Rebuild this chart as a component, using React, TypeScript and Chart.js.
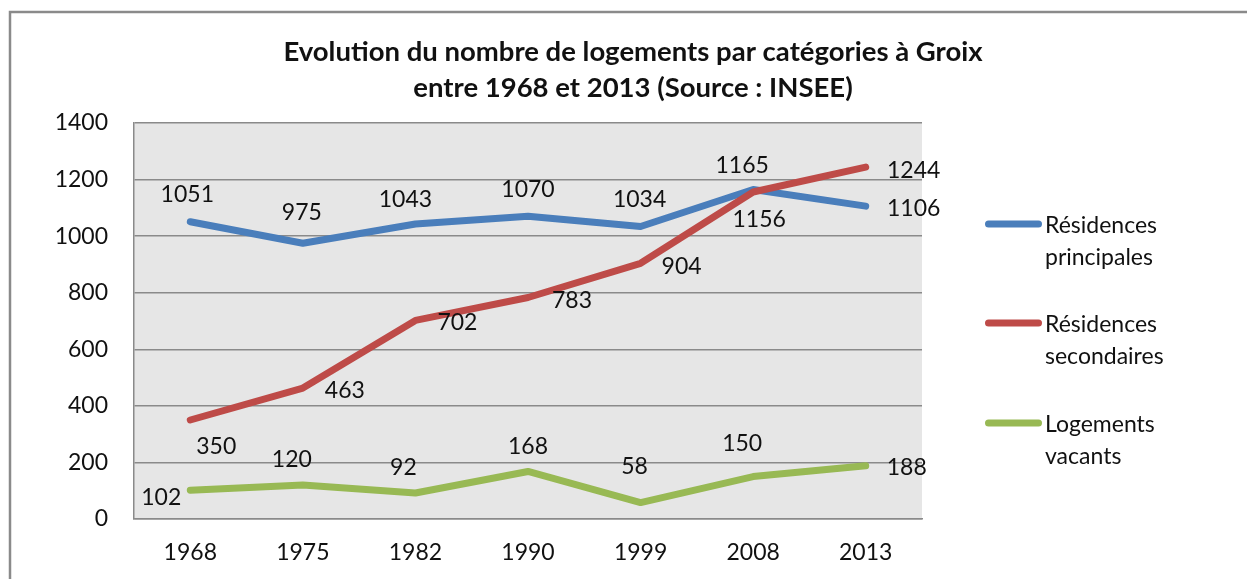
import React, { useEffect, useRef } from "react";
import { Chart, registerables } from "chart.js";

Chart.register(...registerables);

const years = ["1968", "1975", "1982", "1990", "1999", "2008", "2013"];
const principales = [1051, 975, 1043, 1070, 1034, 1165, 1106];
const secondaires = [350, 463, 702, 783, 904, 1156, 1244];
const vacants = [102, 120, 92, 168, 58, 150, 188];
const seriesNames = [
  ["Résidences", "principales"],
  ["Résidences", "secondaires"],
  ["Logements", "vacants"],
];
const titleLines = [
  "Evolution du nombre de logements par catégories à Groix",
  "entre 1968 et 2013 (Source : INSEE)",
];
const yTicks = { min: 0, max: 1400, step: 200 };

const colors = ["#4a7ebb", "#be4b48", "#98b954"];

// label offsets relative to each point (dx, dy of label centre)
const labelOffsets = [
  [[-3, -27], [-1, -31], [-10, -24], [0, -27], [-1, -27], [-11, -24], [48, 2]],
  [[26, 27], [42, 3], [42, 2], [44, 3], [41, 3], [6, 28], [48, 3]],
  [[-29, 7], [-11, -25], [-12, -25], [0, -25], [-6, -36], [-11, -33], [41, 2]],
];

const FONT = "Lato, 'Open Sans', sans-serif";

const decorPlugin = {
  id: "decor",
  beforeDraw(chart: any) {
    const { ctx, chartArea } = chart;
    ctx.save();
    ctx.fillStyle = "#ffffff";
    ctx.fillRect(0, 0, chart.width, chart.height);
    ctx.fillStyle = "#e6e6e6";
    ctx.fillRect(chartArea.left, chartArea.top, chartArea.right - chartArea.left, chartArea.bottom - chartArea.top);
    // outer frame
    ctx.strokeStyle = "#8a8a8a";
    ctx.lineWidth = 2.5;
    ctx.strokeRect(10, 12, chart.width + 50, chart.height + 50);
    // title
    ctx.fillStyle = "#111";
    ctx.font = `bold 27.5px ${FONT}`;
    ctx.textAlign = "center";
    ctx.textBaseline = "middle";
    ctx.fillText(titleLines[0], 633, 52);
    ctx.fillText(titleLines[1], 633, 88);
    ctx.restore();
  },
  afterDatasetsDraw(chart: any) {
    const { ctx } = chart;
    ctx.save();
    ctx.font = `23px ${FONT}`;
    ctx.fillStyle = "#111";
    ctx.textAlign = "center";
    ctx.textBaseline = "middle";
    chart.data.datasets.forEach((ds: any, di: number) => {
      const meta = chart.getDatasetMeta(di);
      meta.data.forEach((pt: any, i: number) => {
        const [dx, dy] = labelOffsets[di][i];
        ctx.fillText(String(ds.data[i]), pt.x + dx, pt.y + dy);
      });
    });
    // legend
    const legendTop = [224, 323, 423];
    seriesNames.forEach((lines, i) => {
      const y = legendTop[i];
      ctx.strokeStyle = colors[i];
      ctx.lineWidth = 7;
      ctx.lineCap = "round";
      ctx.beginPath();
      ctx.moveTo(988.5, y);
      ctx.lineTo(1038.5, y);
      ctx.stroke();
      ctx.textAlign = "left";
      ctx.textBaseline = "alphabetic";
      ctx.fillStyle = "#111";
      ctx.fillText(lines[0], 1045, y + 8.5);
      ctx.fillText(lines[1], 1045, y + 40.5);
    });
    ctx.restore();
  },
};

export default function App() {
  const ref = useRef<HTMLCanvasElement>(null);
  useEffect(() => {
    if (!ref.current) return;
    const datasets = [principales, secondaires, vacants].map((d, i) => ({
      label: seriesNames[i].join(" "),
      data: d,
      borderColor: colors[i],
      backgroundColor: colors[i],
      borderWidth: 7,
      borderCapStyle: "round" as const,
      borderJoinStyle: "round" as const,
      pointRadius: 0,
      tension: 0,
      order: i === 0 ? 3 : i === 1 ? 2 : 1,
    }));
    const chart = new Chart(ref.current, {
      type: "line",
      data: { labels: years, datasets },
      options: {
        animation: false,
        responsive: false,
        layout: { padding: { top: 123, right: 325, left: 0, bottom: 0 } },
        plugins: { legend: { display: false }, title: { display: false }, tooltip: { enabled: false } },
        scales: {
          x: {
            type: "category",
            offset: true,
            grid: { display: false, drawTicks: false },
            border: { display: true, color: "#8a8a8a", width: 1.5 },
            ticks: { font: { family: FONT, size: 23 }, color: "#111", padding: 20, maxRotation: 0 },
            afterFit: (s: any) => { s.height = 60; },
          },
          y: {
            min: yTicks.min,
            max: yTicks.max,
            grid: { color: "#8a8a8a", lineWidth: 1.5, drawTicks: false },
            border: { display: true, color: "#8a8a8a", width: 1.5 },
            ticks: {
              stepSize: yTicks.step,
              font: { family: FONT, size: 23 },
              color: "#111",
              padding: 26,
              callback: (v: any) => String(v),
            },
            afterFit: (s: any) => { s.width = 134; },
          },
        },
      },
      plugins: [decorPlugin],
    });
    return () => chart.destroy();
  }, []);
  return (
    <div style={{ position: "fixed", left: 0, top: 0, width: 1247, height: 579, background: "#fff" }}>
      <canvas ref={ref} width={1247} height={579} style={{ display: "block" }} />
    </div>
  );
}
